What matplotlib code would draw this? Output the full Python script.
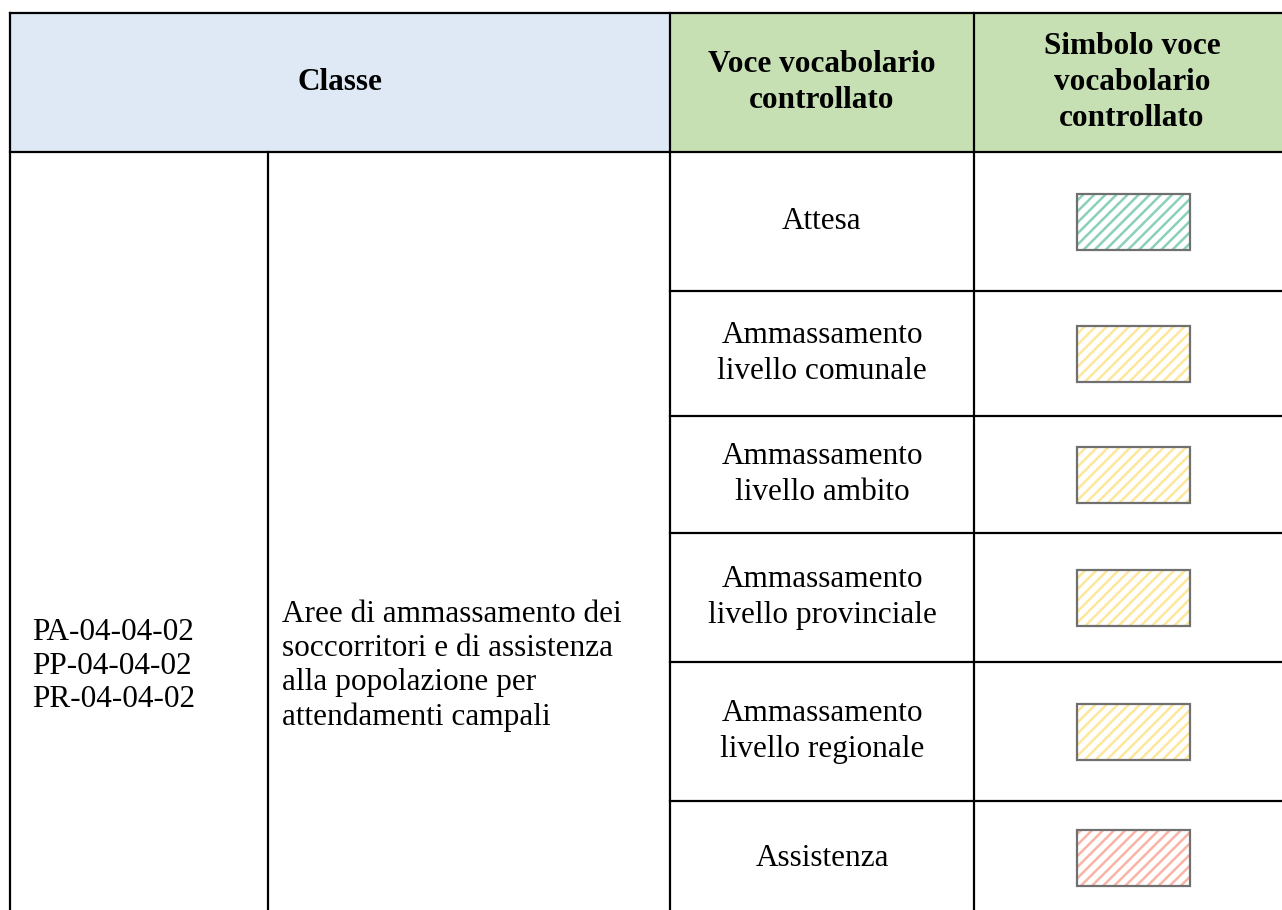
import matplotlib.pyplot as plt
from matplotlib.patches import Rectangle

plt.rcParams['font.family'] = ['Liberation Serif', 'DejaVu Serif']
plt.rcParams['hatch.linewidth'] = 1.8

# table content
header_class = 'Classe'
header_voce = 'Voce vocabolario\ncontrollato'
header_symbol = 'Simbolo voce\nvocabolario\ncontrollato'
codes = ['PA-04-04-02', 'PP-04-04-02', 'PR-04-04-02']
description = ['Aree di ammassamento dei', 'soccorritori e di assistenza',
               'alla popolazione per', 'attendamenti campali']
entries = ['Attesa', 'Ammassamento\nlivello comunale', 'Ammassamento\nlivello ambito',
           'Ammassamento\nlivello provinciale', 'Ammassamento\nlivello regionale',
           'Assistenza']
symbol_colors = ['#8ad0bb', '#fde79a', '#fde79a', '#fde79a', '#fde79a', '#f9b4a6']

# layout in pixels
col_x = [10, 268, 670, 974, 1292]
top, head_bottom = 13, 152
row_y = [152, 291, 416, 533, 662, 801, 940]

fig = plt.figure(figsize=(12.82, 9.10), dpi=100)
ax = fig.add_axes([0, 0, 1, 1])
ax.set_xlim(0, 1282)
ax.set_ylim(910, 0)
ax.axis('off')

# header backgrounds
ax.add_patch(Rectangle((col_x[0], top), col_x[2] - col_x[0], head_bottom - top,
                       facecolor='#dee9f5', edgecolor='none'))
ax.add_patch(Rectangle((col_x[2], top), col_x[4] - col_x[2], head_bottom - top,
                       facecolor='#c6e0b4', edgecolor='none'))

fs = 22.5
ax.text((col_x[0] + col_x[2]) / 2, (top + head_bottom) / 2, header_class,
        ha='center', va='center', fontsize=fs, fontweight='bold')
ax.text((col_x[2] + col_x[3]) / 2, (top + head_bottom) / 2, header_voce,
        ha='center', va='center', fontsize=fs, fontweight='bold', linespacing=1.3)
ax.text(1132, (top + head_bottom) / 2, header_symbol,
        ha='center', va='center', fontsize=fs, fontweight='bold', linespacing=1.3)

# merged left cells
ax.text(32, 666, '\n'.join(codes), ha='left', va='center', fontsize=fs,
        linespacing=1.22)
ax.text(282, 666, '\n'.join(description), ha='left', va='center', fontsize=fs,
        linespacing=1.22)

# vocabulary rows
sym_w, sym_h = 113, 56
for i, (label, color) in enumerate(zip(entries, symbol_colors)):
    y0, y1 = row_y[i], row_y[i + 1]
    cy = (y0 + y1) / 2 if i < len(entries) - 1 else 858
    ax.text((col_x[2] + col_x[3]) / 2, cy, label, ha='center', va='center',
            fontsize=fs, linespacing=1.3)
    sx, sy = 1077, cy - sym_h / 2
    ax.add_patch(Rectangle((sx, sy), sym_w, sym_h, facecolor='white',
                           edgecolor=color, hatch='///', linewidth=0))
    ax.add_patch(Rectangle((sx, sy), sym_w, sym_h, facecolor='none',
                           edgecolor='#707070', linewidth=1.6))

# grid lines
lw = 1.6
ax.plot([col_x[0], col_x[4]], [top, top], color='black', lw=lw)
ax.plot([col_x[0], col_x[4]], [head_bottom, head_bottom], color='black', lw=lw)
ax.plot([col_x[0], col_x[0]], [top, 910], color='black', lw=lw)
ax.plot([col_x[1], col_x[1]], [head_bottom, 910], color='black', lw=lw)
ax.plot([col_x[2], col_x[2]], [top, 910], color='black', lw=lw)
ax.plot([col_x[3], col_x[3]], [top, 910], color='black', lw=lw)
for y in row_y[1:-1]:
    ax.plot([col_x[2], col_x[4]], [y, y], color='black', lw=lw)

fig.savefig('out.png', dpi=100)
